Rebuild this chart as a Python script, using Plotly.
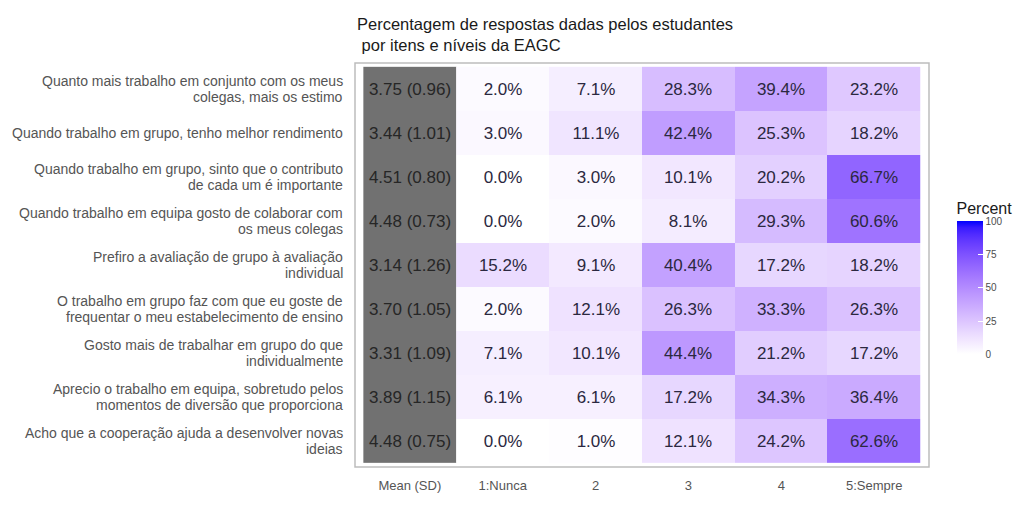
import numpy as np
import plotly.graph_objects as go

items = [
    "Quanto mais trabalho em conjunto com os meus<br>colegas, mais os estimo",
    "Quando trabalho em grupo, tenho melhor rendimento",
    "Quando trabalho em grupo, sinto que o contributo<br>de cada um é importante",
    "Quando trabalho em equipa gosto de colaborar com<br>os meus colegas",
    "Prefiro a avaliação de grupo à avaliação<br>individual",
    "O trabalho em grupo faz com que eu goste de<br>frequentar o meu estabelecimento de ensino",
    "Gosto mais de trabalhar em grupo do que<br>individualmente",
    "Aprecio o trabalho em equipa, sobretudo pelos<br>momentos de diversão que proporciona",
    "Acho que a cooperação ajuda a desenvolver novas<br>ideias",
]
x_labels = ["Mean (SD)", "1:Nunca", "2", "3", "4", "5:Sempre"]

pct_nunca = [2.0, 3.0, 0.0, 0.0, 15.2, 2.0, 7.1, 6.1, 0.0]
pct_2 = [7.1, 11.1, 3.0, 2.0, 9.1, 12.1, 10.1, 6.1, 1.0]
pct_3 = [28.3, 42.4, 10.1, 8.1, 40.4, 26.3, 44.4, 17.2, 12.1]
pct_4 = [39.4, 25.3, 20.2, 29.3, 17.2, 33.3, 21.2, 34.3, 24.2]
pct_sempre = [23.2, 18.2, 66.7, 60.6, 18.2, 26.3, 17.2, 36.4, 62.6]
means = [3.75, 3.44, 4.51, 4.48, 3.14, 3.70, 3.31, 3.89, 4.48]
sds = [0.96, 1.01, 0.80, 0.73, 1.26, 1.05, 1.09, 1.15, 0.75]
colorbar_ticks = [0, 25, 50, 75, 100]
title_text = "Percentagem de respostas dadas pelos estudantes<br> por itens e níveis da EAGC"

# ---- white -> blue gradient interpolated in Lab space (like ggplot) ----
def srgb_to_lab(rgb):
    c = np.array(rgb) / 255.0
    c = np.where(c > 0.04045, ((c + 0.055) / 1.055) ** 2.4, c / 12.92)
    M = np.array([[0.4124, 0.3576, 0.1805], [0.2126, 0.7152, 0.0722], [0.0193, 0.1192, 0.9505]])
    xyz = M @ c / np.array([0.95047, 1.0, 1.08883])
    f = np.where(xyz > 0.008856, np.cbrt(xyz), 7.787 * xyz + 16 / 116)
    return np.array([116 * f[1] - 16, 500 * (f[0] - f[1]), 200 * (f[1] - f[2])])

def lab_to_srgb(lab):
    L, a, b = lab
    fy = (L + 16) / 116
    fx = fy + a / 500
    fz = fy - b / 200
    f = np.array([fx, fy, fz])
    xyz = np.where(f ** 3 > 0.008856, f ** 3, (f - 16 / 116) / 7.787) * np.array([0.95047, 1.0, 1.08883])
    Minv = np.array([[3.2406, -1.5372, -0.4986], [-0.9689, 1.8758, 0.0415], [0.0557, -0.2040, 1.0570]])
    c = Minv @ xyz
    c = np.clip(c, 0, 1)
    c = np.where(c > 0.0031308, 1.055 * c ** (1 / 2.4) - 0.055, 12.92 * c)
    return tuple(int(round(v * 255)) for v in c)

lab_lo = srgb_to_lab((255, 255, 255))
lab_hi = srgb_to_lab((0, 0, 255))
colorscale = []
for t in np.linspace(0, 1, 21):
    r, g, b = lab_to_srgb(lab_lo + (lab_hi - lab_lo) * t)
    colorscale.append([float(t), f"rgb({r},{g},{b})"])

z = [list(row) for row in zip(pct_nunca, pct_2, pct_3, pct_4, pct_sempre)]
ztext = [[f"{v:.1f}%" for v in row] for row in z]
mtext = [[f"{m:.2f} ({s:.2f})"] for m, s in zip(means, sds)]

font_family = "Arial, Liberation Sans, sans-serif"

fig = go.Figure()
fig.add_trace(go.Heatmap(
    z=[[1] for _ in items], x0=0, dx=1, y0=0, dy=1,
    text=mtext, texttemplate="%{text}",
    textfont=dict(size=17, color="#262626", family=font_family),
    colorscale=[[0, "#717171"], [1, "#717171"]], showscale=False,
    hoverinfo="skip",
))
fig.add_trace(go.Heatmap(
    z=z, x0=1, dx=1, y0=0, dy=1,
    text=ztext, texttemplate="%{text}",
    textfont=dict(size=17, color="#2b2840", family=font_family),
    colorscale=colorscale, zmin=0, zmax=100,
    colorbar=dict(
        title=dict(text="Percent", side="top", font=dict(size=16, color="#1a1a1a", family=font_family)),
        tickvals=colorbar_ticks, ticktext=[str(v) for v in colorbar_ticks],
        tickfont=dict(size=10, color="#4d4d4d", family=font_family),
        ticks="inside", tickcolor="white", ticklen=5,
        thickness=26, len=155, lenmode="pixels",
        x=1.048, xanchor="left", y=(484 - 205) / 421, yanchor="top",
        outlinewidth=0, xpad=0, ypad=0,
    ),
))

pad_x = 0.09
pad_y = 0.087
fig.update_xaxes(
    range=[-0.5 - pad_x, 5.5 + pad_x], showgrid=False, zeroline=False,
    tickmode="array", tickvals=list(range(len(x_labels))), ticktext=x_labels,
    tickfont=dict(size=13, color="#555555", family=font_family), ticks="", ticklen=0,
    ticklabelstandoff=9, fixedrange=True,
)
fig.update_yaxes(
    range=[len(items) - 0.5 + pad_y, -0.5 - pad_y], showgrid=False, zeroline=False,
    showticklabels=False, ticks="", fixedrange=True,
)

# y-axis item labels, one annotation per text line for tight line spacing
line_gap = 15.6
for i, label in enumerate(items):
    lines = label.split("<br>")
    n = len(lines)
    for j, ln in enumerate(lines):
        fig.add_annotation(
            x=0, xref="paper", xshift=-10, xanchor="right",
            y=i, yref="y", yanchor="middle",
            yshift=((n - 1) / 2 - j) * line_gap,
            text=ln, showarrow=False,
            font=dict(size=14, color="#555555", family=font_family),
        )

# title as a left-aligned annotation above the panel
fig.add_annotation(
    x=0, xref="paper", xanchor="left", xshift=0,
    y=1, yref="paper", yanchor="bottom", yshift=7,
    text=title_text, showarrow=False, align="left",
    font=dict(size=16.5, color="#1a1a1a", family=font_family),
)

fig.add_shape(type="rect", xref="paper", yref="paper", x0=0, y0=0, x1=1, y1=1,
              line=dict(color="#bdbdbd", width=1.5), fillcolor="rgba(0,0,0,0)", layer="above")

fig.update_layout(
    width=1024, height=505,
    margin=dict(l=355, r=85, t=63, b=21),
    paper_bgcolor="white", plot_bgcolor="white",
    font=dict(family=font_family),
)

fig.write_html(
    "out.html",
    config={"displayModeBar": False},
    post_script="document.body.style.margin='0';document.body.style.overflow='hidden';",
)
